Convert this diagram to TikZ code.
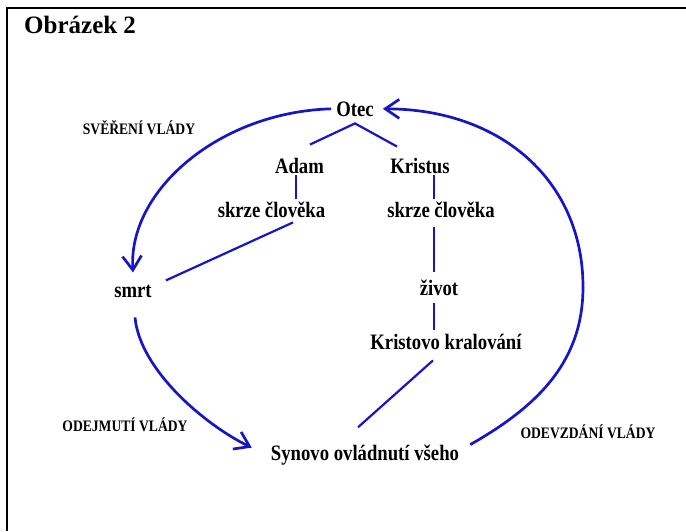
\documentclass[tikz,border=0pt]{standalone}
\usepackage{fontspec}
\setmainfont{Liberation Serif}
\newfontfamily\narrowfont{Liberation Serif}[FakeStretch=0.85]
\usetikzlibrary{arrows.meta}
\definecolor{linkblue}{RGB}{22,22,198}

\begin{document}
\begin{tikzpicture}[
    x=1pt, y=-1pt,
    every node/.style={anchor=base, inner sep=2pt, font=\narrowfont\bfseries\fontsize{22}{26}\selectfont},
    rulelabel/.style={font=\narrowfont\bfseries\fontsize{16}{18}\selectfont},
    link/.style={draw=linkblue, line width=2.2pt},
    bigarc/.style={draw=linkblue, line width=2.7pt, -{Straight Barb[length=14pt,width=19pt]}}
]
    \useasboundingbox (0,0) rectangle (686,531);
    % frame
    \draw[line width=2.5pt] (7,531) -- (7,8) -- (686,8);
    \node[anchor=base west, inner sep=0pt, font=\bfseries\fontsize{25}{29}\selectfont] (title) at (24,33) {Obrázek 2};

    % nodes
    \node (otec) at (355,116) {Otec};
    \node (adam) at (299.5,173) {Adam};
    \node (kristus) at (420,173) {Kristus};
    \node (skrzeA) at (271.5,217) {skrze člověka};
    \node (skrzeB) at (441,217) {skrze člověka};
    \node (smrt) at (133,297) {smrt};
    \node (zivot) at (439,295) {život};
    \node (kralovani) at (446,349) {Kristovo kralování};
    \node (synovo) at (365,460) {Synovo ovládnutí všeho};

    % labels
    \node[rulelabel] (sverenivlady) at (139,134.5) {SVĚŘENÍ VLÁDY};
    \node[rulelabel] (odejmutivlady) at (125,431.5) {ODEJMUTÍ VLÁDY};
    \node[rulelabel] (odevzdanivlady) at (588,438.5) {ODEVZDÁNÍ VLÁDY};

    % tree
    \coordinate (apex) at ([yshift=-5pt]otec.south);
    \draw[link] ([xshift=10.5pt,yshift=11pt]adam.north) -- (apex) -- ([xshift=-23pt,yshift=9pt]kristus.north);
    \draw[link] ([xshift=-3.5pt]adam.south) -- ([xshift=-3.5pt]adam.south |- skrzeA.north);
    \draw[link] ([xshift=21.5pt,yshift=-3pt]skrzeA.south) -- ([xshift=12pt,yshift=2pt]smrt.north east);
    \draw[link] ([xshift=14pt]kristus.south) -- ([xshift=14pt]kristus.south |- skrzeB.north);
    \draw[link] ([xshift=-7pt,yshift=-8pt]skrzeB.south) -- ([xshift=-5pt,yshift=5pt]zivot.north);
    \draw[link] ([xshift=-5pt,yshift=-6pt]zivot.south) -- ([xshift=-12pt,yshift=2pt]kralovani.north);
    \draw[link] ([xshift=-13pt,yshift=-9pt]kralovani.south) -- ([xshift=-7pt,yshift=15pt]synovo.north);

    % cycle
    \draw[bigarc] ([xshift=-3pt]otec.west) .. controls (220,112) and (128,190) .. ([yshift=10pt]smrt.north);
    \draw[bigarc] ([xshift=2pt,yshift=-18pt]smrt.south) .. controls (140,370) and (205,425) .. ([xshift=-17pt,yshift=7pt]synovo.west);
    \draw[bigarc] ([xshift=9pt,yshift=10pt]synovo.east) .. controls (540,405) and (583,360) .. (583,287)
        .. controls (583,180) and (500,109) .. ([xshift=7pt]otec.east);
\end{tikzpicture}
\end{document}
